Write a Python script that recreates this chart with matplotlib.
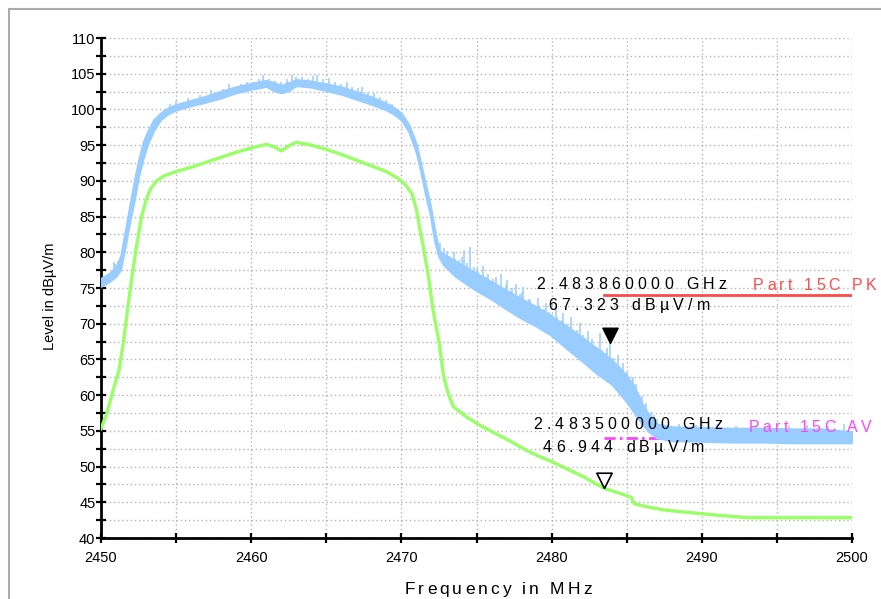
#!/usr/bin/env python3
"""EMI scan plot: peak / average traces against Part 15C limits."""

import numpy as np
import matplotlib

matplotlib.use("Agg")
import matplotlib.pyplot as plt
from matplotlib import font_manager
from matplotlib.ft2font import FT2Font
from matplotlib.patches import Rectangle

FONT = "Liberation Sans"
PK_COLOR = "#99ccff"
AV_COLOR = "#99ff66"
PK_LIMIT_COLOR = "#ff4a4a"
AV_LIMIT_COLOR = "#ff44ff"

# peak trace (MHz, lower / upper edge of the dense noise band, dBuV/m)
pk_freq = [2450, 2450.5, 2451, 2451.3, 2451.6, 2451.9, 2452.2, 2452.5, 2452.8, 2453.1,
           2453.5, 2454, 2454.5, 2455, 2456, 2457, 2458, 2459, 2460, 2461,
           2461.5, 2462, 2462.5, 2463, 2464, 2465, 2466, 2467, 2468, 2469,
           2469.5, 2470, 2470.5, 2471, 2471.3, 2471.6, 2471.9, 2472.2, 2472.5, 2472.8,
           2473.2, 2473.6, 2474, 2474.5, 2475, 2476, 2477, 2478, 2479, 2480,
           2481, 2482, 2483, 2484, 2485, 2485.5, 2486, 2486.5, 2487, 2488,
           2490, 2492, 2494, 2496, 2498, 2500]
pk_low = [75.2, 75.8, 76.6, 77.5, 80.5, 84.0, 87.0, 90.5, 93.0, 95.0,
          97.0, 98.6, 99.4, 99.9, 100.5, 101.0, 101.6, 102.3, 102.8, 103.2,
          102.6, 102.3, 102.6, 103.3, 103.1, 102.6, 102.1, 101.4, 100.7, 99.9,
          99.3, 98.5, 96.8, 93.8, 91.0, 88.0, 85.3, 81.5, 79.3, 78.2,
          77.4, 76.6, 76.0, 75.3, 74.6, 73.4, 72.0, 70.7, 69.6, 68.3,
          66.5, 64.8, 63.0, 61.5, 59.0, 57.5, 56.0, 54.8, 54.0, 53.6,
          53.5, 53.4, 53.4, 53.3, 53.3, 53.3]
pk_high = [76.4, 77.0, 78.0, 79.5, 83.0, 86.5, 90.0, 93.0, 95.5, 97.0,
           98.6, 99.6, 100.3, 100.7, 101.3, 101.9, 102.6, 103.2, 103.7, 104.1,
           103.8, 103.4, 103.8, 104.2, 104.0, 103.6, 103.2, 102.5, 101.8, 100.9,
           100.3, 99.5, 97.9, 95.2, 92.5, 89.6, 87.0, 83.5, 80.3, 79.8,
           79.3, 78.8, 78.3, 77.7, 77.1, 75.9, 74.7, 73.5, 72.4, 71.1,
           69.7, 68.2, 66.6, 65.0, 62.8, 61.3, 59.0, 57.2, 56.0, 55.6,
           55.5, 55.4, 55.4, 55.3, 55.3, 54.9]

# single-sweep spikes sticking out of the peak band
spike_freq = [2450.85, 2450.95, 2451.1,
              2454.6, 2455.0, 2455.4, 2455.8, 2456.2, 2456.6, 2457.0, 2457.3, 2457.7, 2458.1,
              2458.5, 2458.9, 2459.3, 2459.7, 2460.1, 2460.5, 2460.8, 2461.2, 2461.6, 2462.0,
              2462.4, 2462.7, 2463.0, 2463.4, 2463.8, 2464.1, 2464.4, 2464.8, 2465.2, 2465.6,
              2466.0, 2466.35, 2466.7, 2467.1, 2467.4, 2467.8, 2468.2, 2468.6, 2469.0, 2469.4,
              2472.45, 2472.55, 2472.83, 2473.02, 2473.14, 2473.47, 2473.58, 2473.86, 2474.03, 2474.2,
              2474.37, 2474.55, 2474.86, 2475.05, 2475.13, 2475.41, 2475.66, 2475.74, 2476.08, 2476.21,
              2476.3, 2476.6, 2476.95, 2477.02, 2477.27, 2477.38, 2477.63, 2477.9, 2478.04, 2478.1,
              2478.47, 2478.55, 2478.77, 2479.1, 2479.16, 2479.48, 2479.62, 2479.85, 2480.03, 2480.3,
              2480.38, 2480.69, 2480.77, 2481.0, 2481.25, 2481.31, 2481.66, 2481.9, 2482.08, 2482.17,
              2482.45, 2482.64, 2482.72, 2483.05, 2483.2, 2483.37, 2483.63, 2483.71, 2483.86, 2484.08,
              2484.16, 2484.42, 2484.58, 2484.75, 2485.03, 2485.18, 2485.4, 2485.62, 2485.77, 2486.05,
              2486.14, 2486.3, 2486.62, 2486.81, 2487.0,
              2488.5, 2489.6, 2491.0, 2492.3, 2493.6, 2494.5, 2495.8, 2497.0, 2498.4, 2499.5]
spike_top = [78.7, 78.4, 78.8,
             100.8, 101.2, 100.9, 101.6, 101.5, 102.0, 101.9, 102.7, 102.3, 102.9,
             103.5, 103.1, 103.6, 103.9, 103.8, 104.3, 104.8, 104.3, 104.0, 103.9,
             104.2, 104.8, 104.5, 104.6, 104.3, 104.7, 104.8, 104.2, 104.4, 103.9,
             103.6, 103.9, 103.2, 103.0, 103.2, 102.4, 102.3, 101.7, 101.3, 100.8,
             81.0, 81.3, 80.6, 80.2, 79.5, 80.0, 79.1, 78.9, 79.4, 80.3,
             78.5, 80.8, 77.9, 77.8, 77.3, 78.1, 76.6, 77.0, 76.2, 75.9,
             76.6, 76.9, 75.4, 76.1, 74.6, 75.0, 75.6, 74.1, 74.4, 75.2,
             73.5, 73.3, 72.8, 73.6, 72.4, 72.1, 72.9, 71.6, 71.3, 72.4,
             70.9, 70.5, 71.5, 70.0, 69.6, 70.9, 69.1, 70.1, 68.4, 68.0,
             69.0, 67.5, 67.9, 66.8, 68.7, 66.3, 65.9, 66.6, 67.323, 65.2,
             64.8, 65.6, 63.9, 64.5, 63.2, 62.6, 62.6, 61.5, 60.4, 59.9,
             58.6, 58.9, 57.6, 57.2, 56.6,
             56.0, 55.8, 55.9, 55.7, 55.8, 56.0, 55.7, 55.8, 55.7, 55.9]

# average trace (MHz, dBuV/m)
av_freq = [2450, 2450.4, 2450.8, 2451.2, 2451.5, 2451.8, 2452.1, 2452.4, 2452.7, 2453.0,
           2453.3, 2453.7, 2454.2, 2455, 2456, 2457, 2458, 2459, 2460, 2461,
           2461.5, 2462, 2462.5, 2463, 2464, 2465, 2466, 2467, 2468, 2469,
           2469.8, 2470.3, 2470.7, 2471.0, 2471.2, 2471.5, 2471.8, 2472.1, 2472.5, 2472.8,
           2473.1, 2473.45, 2474.3, 2475.2, 2476.3, 2477.3, 2478.3, 2479.2, 2480, 2481,
           2482.1, 2483.5, 2484.5, 2485.3, 2485.5, 2486.5, 2487.6, 2489, 2490, 2491,
           2492.1, 2493.2, 2500]
av_level = [55.3, 57.5, 60.6, 63.5, 67.5, 72.5, 77.2, 81.3, 85.0, 87.3,
            88.9, 90.0, 90.7, 91.3, 91.9, 92.6, 93.3, 94.0, 94.6, 95.1,
            94.8, 94.2, 94.9, 95.4, 95.0, 94.4, 93.7, 92.9, 92.1, 91.3,
            90.3, 89.4, 88.2, 86.0, 83.6, 80.3, 76.6, 72.0, 67.5, 62.8,
            60.3, 58.4, 57.0, 55.8, 54.6, 53.5, 52.3, 51.4, 50.7, 49.7,
            48.6, 46.944, 46.3, 45.7, 44.8, 44.3, 43.9, 43.6, 43.4, 43.2,
            43.0, 42.85, 42.85]

# limit lines
limit_freq = [2483.5, 2500]
pk_limit = [74, 74]
av_limit = [54, 54]

# markers
pk_marker = (2483.86, 67.323)
av_marker = (2483.5, 46.944)

TRACK = 3.1  # letter spacing in points


def char_advances(text, size):
    path = font_manager.findfont(font_manager.FontProperties(family=FONT))
    font = FT2Font(path)
    font.set_size(size, 72)
    return [font.load_char(ord(c)).linearHoriAdvance / 65536 for c in text]


def spaced_text(ax, x, y, text, size, color, xycoords="data", ha="left", track=TRACK):
    adv = char_advances(text, size)
    total = sum(adv) + track * (len(text) - 1)
    off = {"left": 0.0, "center": -total / 2, "right": -total}[ha]
    for ch, a in zip(text, adv):
        if ch != " ":
            ax.annotate(ch, xy=(x, y), xycoords=xycoords, xytext=(off, 0),
                        textcoords="offset points", ha="left", va="baseline",
                        fontsize=size, family=FONT, color=color,
                        annotation_clip=False, zorder=6)
        off += a + track


fig = plt.figure(figsize=(8.81, 5.99), dpi=100)
ax = fig.add_axes([101 / 881, 1 - 538 / 599, 751 / 881, 500 / 599])

# limits under the traces
ax.plot(limit_freq, pk_limit, color=PK_LIMIT_COLOR, lw=2, zorder=2)
ax.plot(limit_freq, av_limit, color=AV_LIMIT_COLOR, lw=2, ls=(0, (4, 1.5, 1, 1.5)), zorder=2)

# peak trace
ax.fill_between(pk_freq, pk_low, pk_high, color=PK_COLOR, lw=1.2, edgecolor=PK_COLOR, zorder=3)
spike_base = np.interp(spike_freq, pk_freq, pk_low)
ax.vlines(spike_freq, spike_base, spike_top, color=PK_COLOR, lw=1.1, zorder=3)

# average trace
ax.plot(av_freq, av_level, color=AV_COLOR, lw=2.4, zorder=4)

# markers, apex on the measured point
tri = [(0, 0), (-0.5, 1), (0.5, 1), (0, 0)]
ax.plot(*pk_marker, marker=tri, ms=22, color="black", mec="black", ls="none", zorder=5)
ax.plot(*av_marker, marker=tri, ms=22, mfc="white", mec="black", mew=1.2, ls="none", zorder=5)

# marker read-outs and limit names
spaced_text(ax, 2479.0, 74.8, "2.483860000 GHz", 11.5, "black")
spaced_text(ax, 2479.75, 71.9, "67.323 dBµV/m", 11.5, "black")
spaced_text(ax, 2478.75, 55.2, "2.483500000 GHz", 11.5, "black")
spaced_text(ax, 2479.4, 52.1, "46.944 dBµV/m", 11.5, "black")
spaced_text(ax, 2493.4, 74.75, "Part 15C PK", 11.5, PK_LIMIT_COLOR, track=2.5)
spaced_text(ax, 2493.1, 54.9, "Part 15C AV", 11.5, AV_LIMIT_COLOR, track=2.5)

# axes styling
ax.set_xlim(2450, 2500)
ax.set_ylim(40, 110)
ax.set_xticks(np.arange(2450, 2501, 10))
ax.set_xticks(np.arange(2455, 2500, 10), minor=True)
ax.set_yticks(np.arange(40, 111, 5))
ax.set_yticks(np.arange(42.5, 110, 5), minor=True)
ax.grid(True, which="both", color="#b4b4b4", lw=1, ls=(0, (1, 2)))
ax.set_axisbelow(True)
for spine in ("top", "right"):
    ax.spines[spine].set_visible(False)
for spine in ("left", "bottom"):
    ax.spines[spine].set_linewidth(2)
ax.tick_params(which="both", direction="inout", length=7, width=1.6, color="black")
ax.tick_params(axis="y", which="major", pad=0.5)
ax.tick_params(axis="x", which="major", pad=6)
for lab in ax.get_xticklabels() + ax.get_yticklabels():
    lab.set_family(FONT)
    lab.set_fontsize(10.5)

fig.text(50 / 881, 1 - 296 / 599, "Level in dBµV/m", rotation=90, ha="center", va="center",
         family=FONT, fontsize=10.5)
spaced_text(ax, 498 / 881, 1 - 594 / 599, "Frequency in MHz", 12.5, "black",
            xycoords="figure fraction", ha="center", track=2.25)

# outer frame of the report picture
fig.patches.append(Rectangle((8.5 / 881, -0.1), 1.2, 1.1 - 9.5 / 599, transform=fig.transFigure,
                             fill=False, ec="#aaaaaa", lw=1.5))

fig.savefig("out.png", dpi=100)
